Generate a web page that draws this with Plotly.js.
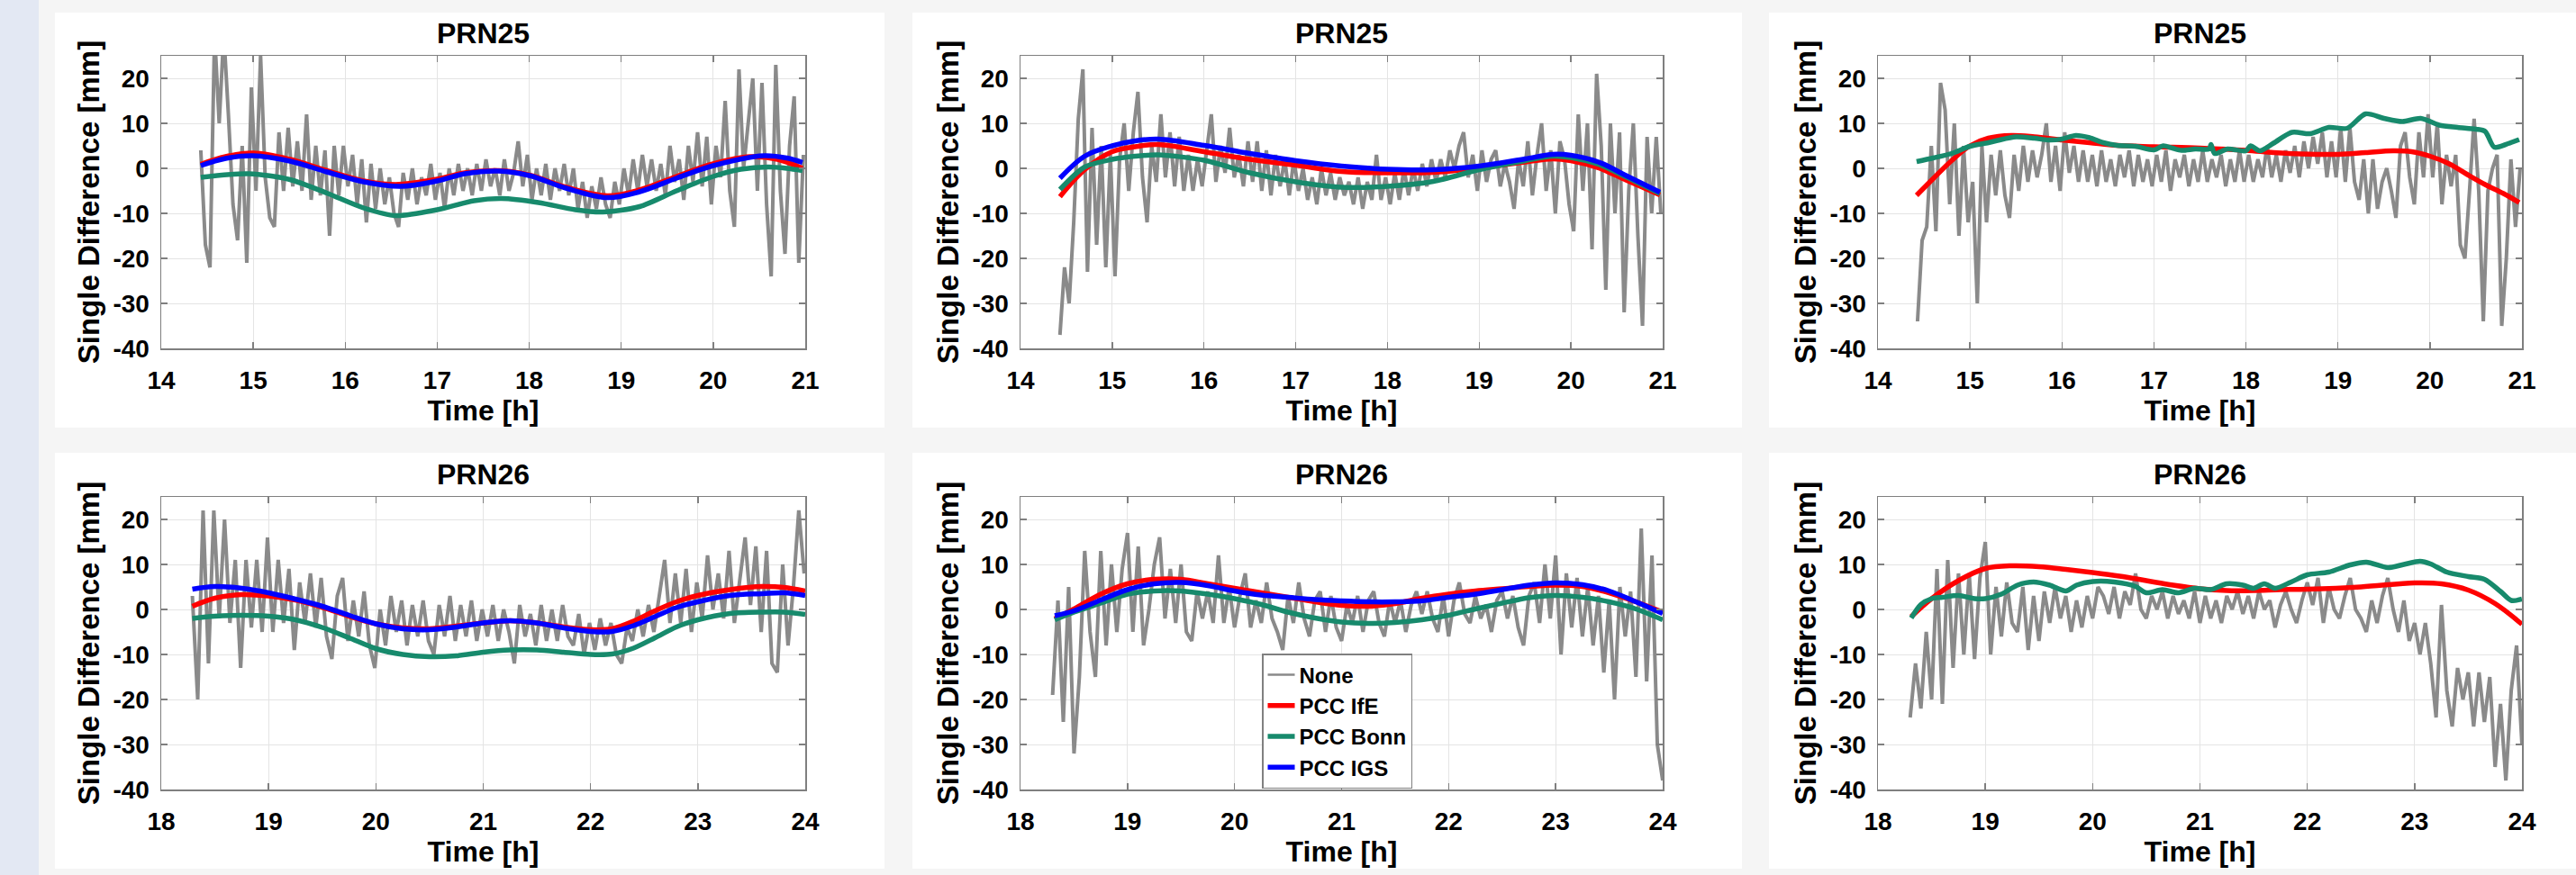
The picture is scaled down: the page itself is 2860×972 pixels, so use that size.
<!DOCTYPE html>
<html>
<head>
<meta charset="utf-8">
<script src="https://cdn.plot.ly/plotly-3.0.1.min.js"></script>
<style>
html,body{margin:0;padding:0;background:#f5f5f5;overflow:hidden;}
#chart{width:2860px;height:972px;}
</style>
</head>
<body>
<div id="chart"></div>
<script>
// ---------------- DATA ----------------
const seriesNames = ["None", "PCC IfE", "PCC Bonn", "PCC IGS"];
const panelTitles = ["PRN25", "PRN25", "PRN25", "PRN26", "PRN26", "PRN26"];
const yTickVals = [-40, -30, -20, -10, 0, 10, 20];
const yTickText = ["-40", "-30", "-20", "-10", "0", "10", "20"];
const xTickValsTop = [14, 15, 16, 17, 18, 19, 20, 21];
const xTickValsBottom = [18, 19, 20, 21, 22, 23, 24];
const sampleStep = 0.05; // sampling step of the raw ("None") series, hours

// Panel 1 (top-left)
const p1_none_t0 = 14.43;
const p1_none = [4,-17,-22,30,10,30,12,-8,-16,5,
  -21,18,-5,25,-2,-11,-13,8,-5,9,
  -4,6,-5,12,-7,5,-6,4,-15,5,
  -6,5,-4,3,-8,2,-12,1,-9,0,
  -8,-2,-10,-13,-1,-7,0,-8,-2,-6,
  1,-7,-1,-9,0,-6,1,-5,0,-6,
  1,-5,2,-4,0,-6,2,-5,-1,6,
  -4,3,-7,0,-6,1,-7,0,-5,1,
  -6,0,-9,-3,-11,-4,-9,-2,-8,-11,
  -3,-8,0,-6,2,-5,3,-4,2,-5,
  1,-6,5,-3,2,-7,5,-3,8,-4,
  7,-8,5,-2,15,-5,-13,22,0,10,
  20,-5,19,-8,-24,23,-5,-19,5,16,
  -21,3];
const p1_ife_t = [14.43,14.7,15.0,15.4,15.8,16.2,16.55,17.0,17.3,17.67,18.0,18.4,18.85,19.2,19.6,20.0,20.4,20.7,20.97];
const p1_ife   = [0.9,2.6,3.4,2.0,-0.5,-2.8,-3.6,-2.4,-1.0,-0.5,-1.5,-4.2,-6.1,-4.8,-1.8,1.0,2.6,2.0,0.0];
const p1_bonn_t = [14.43,14.95,15.4,15.8,16.2,16.55,17.0,17.4,17.7,18.1,18.5,18.8,19.2,19.6,20.0,20.3,20.6,20.8,20.97];
const p1_bonn   = [-2.0,-1.2,-2.5,-5.5,-8.8,-10.5,-9.2,-7.2,-6.7,-7.6,-9.2,-9.7,-8.5,-5.0,-1.8,-0.2,0.3,0.0,-0.5];
const p1_igs_t = [14.43,14.7,15.0,15.4,15.8,16.2,16.6,17.0,17.3,17.67,18.0,18.4,18.85,19.2,19.6,20.0,20.55,20.8,20.97];
const p1_igs   = [0.6,2.2,2.8,1.6,-0.8,-3.0,-4.0,-2.8,-1.2,-0.6,-1.6,-4.4,-6.5,-5.2,-2.2,0.6,2.8,2.3,1.3];

// Panel 2 (top-middle)
const p2_none_t0 = 14.43;
const p2_none = [-37,-22,-30,-12,11,22,-23,9,-17,5,
  -22,3,-24,2,10,-5,8,17,-2,-12,
  5,-3,12,-2,8,-4,7,-5,3,-5,
  2,-4,4,12,-3,5,-1,9,-2,3,
  -4,6,-3,6,-5,4,-6,3,-4,2,
  -6,2,-5,0,-7,-2,-8,0,-6,-1,
  -7,-2,-6,-3,-8,-2,-9,-3,-7,3,
  -7,-2,-8,-1,-7,0,-6,0,-5,1,
  -4,2,-3,2,-2,4,0,5,8,-2,
  3,-5,4,-3,2,4,-4,1,-3,-9,
  2,-4,6,-6,3,10,-5,4,-10,6,
  2,-8,-14,12,-5,10,-18,21,5,-27,
  10,-10,8,-32,-5,10,-15,-35,7,-10,
  7,-10];
const p2_fit_t = [14.43,14.7,15.0,15.25,15.5,16.0,16.5,17.0,17.5,18.0,18.5,19.0,19.5,19.8,20.0,20.3,20.6,20.97];
const p2_ife  = [-6.3,-0.3,3.7,4.8,5.3,3.7,2.0,0.7,-0.7,-1.0,-0.9,0.1,1.4,2.1,1.7,0.1,-2.6,-5.9];
const p2_bonn = [-4.7,0.3,2.0,2.7,3.0,1.8,-1.0,-3.0,-4.2,-4.0,-2.9,-0.3,1.7,2.7,2.4,0.9,-1.9,-5.6];
const p2_igs  = [-2.2,2.7,5.0,6.1,6.5,5.1,3.3,1.7,0.5,-0.2,-0.3,0.5,2.1,3.1,2.9,1.4,-1.6,-5.3];

// Panel 3 (top-right)
const p3_none_t0 = 14.43;
const p3_none = [-34,-16,-13,5,-14,19,13,-8,10,-15,
  5,-12,-3,-30,5,-12,3,-6,4,-6,
  -11,3,-5,5,-3,4,-2,3,10,-3,
  5,-5,8,-1,5,-3,4,-3,3,-4,
  4,-3,2,-4,3,-2,4,-4,3,-3,
  2,-4,3,-3,4,-5,2,-2,3,-4,
  2,-3,4,-3,2,-2,3,-4,2,-3,
  4,-3,3,-3,2,-2,5,-2,3,-3,
  4,-1,5,-2,6,0,7,1,8,-2,
  6,-2,9,-3,9,-3,-7,2,-10,2,
  -9,-3,0,-5,-11,5,8,-2,-8,8,
  -2,12,-2,10,-8,3,-4,3,-17,-20,
  -5,11,-5,-34,-5,0,3,-35,-20,2,
  -13,0];
const p3_ife_t = [14.42,14.6,14.8,15.0,15.2,15.45,15.7,16.0,16.3,16.6,17.0,17.5,18.0,18.3,18.6,19.0,19.3,19.6,19.8,20.0,20.2,20.4,20.6,20.8,20.97];
const p3_ife   = [-6.0,-2.3,1.7,5.0,6.7,7.3,7.0,6.3,5.7,5.1,4.8,4.5,4.0,3.5,3.2,3.1,3.5,3.9,3.7,2.7,1.1,-1.3,-3.6,-5.6,-7.6];
const p3_bonn_t = [14.42,14.6,14.8,15.0,15.2,15.3,15.5,15.7,15.85,16.0,16.15,16.3,16.45,16.6,16.8,17.0,17.1,17.2,17.3,17.45,17.6,17.62,17.66,17.8,18.0,18.05,18.15,18.3,18.5,18.7,18.9,19.1,19.3,19.5,19.7,19.9,20.1,20.3,20.5,20.6,20.7,20.85,20.97];
const p3_bonn   = [1.5,2.3,3.3,4.9,5.7,6.2,7.0,6.7,6.3,6.5,7.3,6.8,5.7,5.1,4.9,4.1,5.0,4.5,4.0,4.3,4.3,5.3,3.3,4.3,3.9,5.0,3.9,5.6,8.0,7.7,9.1,8.9,12.1,11.1,10.4,11.1,9.6,9.1,8.7,8.2,4.7,5.5,6.4];

// Panel 4 (bottom-left)
const p4_none_t0 = 18.29;
const p4_none = [3,-20,22,-12,22,-2,20,-3,11,-13,
  11,-4,11,-5,16,-5,11,-3,9,-9,
  6,-3,8,-4,7,-6,-11,3,7,-7,
  2,-6,4,-8,-13,0,-8,3,-5,2,
  -8,1,-6,2,-7,-10,1,-6,3,-7,
  1,-6,2,-7,0,-6,1,-7,0,-5,
  -12,1,-6,-1,-8,1,-7,0,-7,1,
  -6,-8,-1,-10,-3,-9,-2,-8,-3,-10,
  -12,-4,-7,0,-6,1,-5,3,11,-3,
  8,-3,9,-5,6,-2,12,0,8,-2,
  13,-3,6,16,1,14,-5,13,-12,-14,
  10,-8,5,22,8];
const p4_fit_t = [18.29,18.5,18.75,19.0,19.25,19.5,19.75,20.0,20.25,20.5,20.75,21.0,21.25,21.5,21.75,22.0,22.2,22.4,22.6,22.8,23.0,23.3,23.6,23.8,24.0];
const p4_ife  = [0.7,2.5,3.3,3.0,2.1,0.5,-1.5,-3.2,-4.1,-4.3,-3.7,-3.0,-2.5,-3.0,-3.9,-4.5,-4.3,-2.6,-0.3,1.7,3.1,4.4,5.1,4.9,4.1];
const p4_bonn = [-2.0,-1.5,-1.3,-1.5,-2.3,-4.0,-6.3,-8.7,-10.0,-10.5,-10.3,-9.5,-9.0,-9.0,-9.5,-10.0,-9.9,-8.6,-6.3,-3.9,-2.3,-0.9,-0.6,-0.6,-1.1];
const p4_igs  = [4.5,5.1,4.7,3.7,2.3,0.7,-1.3,-3.2,-4.3,-4.5,-3.9,-3.0,-2.5,-3.0,-4.1,-4.9,-4.9,-3.6,-1.6,0.4,1.7,3.1,3.5,3.7,3.1];

// Panel 5 (bottom-middle)
const p5_none_t0 = 18.30;
const p5_none = [-19,2,-25,5,-32,-15,13,-5,-15,13,
  -8,10,-5,9,17,-5,14,-8,0,10,
  16,-2,9,-3,10,-5,-7,4,-2,4,
  -3,12,-3,5,-4,3,8,-4,2,-3,
  6,-2,-5,-9,3,-3,6,-2,-6,2,
  4,-5,3,-4,-7,1,-3,3,-5,2,
  4,-3,-6,2,-3,2,-5,1,4,-1,
  4,-2,-5,3,-6,2,6,-1,-3,3,
  -2,1,-5,2,4,-2,3,-4,-8,3,
  6,-3,10,-2,12,-10,8,-4,7,-6,
  5,-8,3,-14,2,-20,5,-6,4,-15,
  18,-16,12,-30,-38];
const p5_fit_t = [18.32,18.5,18.75,19.0,19.25,19.5,19.75,20.0,20.25,20.5,20.75,21.0,21.25,21.5,21.75,22.0,22.25,22.5,22.75,23.0,23.25,23.5,23.75,24.0];
const p5_ife  = [-2.1,0.1,3.4,5.7,6.7,6.7,5.7,4.7,3.7,2.7,1.7,0.9,0.7,1.3,2.5,3.4,4.1,4.6,5.1,5.4,5.1,3.7,1.7,-0.6];
const p5_bonn = [-2.3,-0.6,1.4,3.4,4.1,4.1,3.4,2.4,1.1,-0.6,-1.9,-2.8,-3.1,-2.9,-2.3,-1.3,0.1,1.4,2.6,3.1,2.7,1.7,0.1,-2.3];
const p5_igs  = [-1.4,-0.3,2.1,4.4,5.7,6.0,5.3,4.1,3.2,2.7,2.2,1.9,1.7,1.7,1.9,2.7,3.4,4.4,5.4,5.9,5.5,4.1,1.7,-0.9];

// Panel 6 (bottom-right)
const p6_none_t0 = 18.30;
const p6_none = [-24,-12,-22,-5,-20,9,-21,11,-13,8,
  -10,8,-11,7,15,-10,5,-6,6,-3,
  -5,5,-9,3,-7,4,-3,5,-2,3,
  -5,2,-4,3,-2,5,3,-1,5,-2,
  4,1,8,0,-2,3,0,4,-2,3,
  -1,2,-2,4,-3,3,-2,2,-3,3,
  0,4,-1,3,-2,4,0,2,-4,1,
  4,0,-3,2,6,1,7,-3,5,0,
  -2,3,7,0,-2,-5,2,-3,3,7,
  0,-5,2,-7,-3,-10,-3,-12,-24,1,
  -18,-26,-13,-20,-14,-26,-14,-25,-15,-35,
  -21,-38,-18,-8,-30];
const p6_ife_t = [18.31,18.5,18.75,19.0,19.25,19.5,19.75,20.0,20.25,20.5,20.75,21.0,21.25,21.5,21.75,22.0,22.5,23.0,23.25,23.5,23.75,24.0];
const p6_ife   = [-1.6,2.4,6.4,9.1,9.7,9.5,8.9,8.2,7.4,6.4,5.4,4.6,4.2,4.2,4.4,4.5,5.0,5.9,5.7,4.3,1.3,-3.3];
const p6_bonn_t = [18.31,18.4,18.5,18.6,18.75,18.9,19.0,19.15,19.3,19.45,19.6,19.75,19.85,20.0,20.2,20.4,20.5,20.65,20.8,20.95,21.1,21.25,21.4,21.5,21.6,21.7,21.85,22.0,22.2,22.4,22.55,22.75,22.9,23.05,23.15,23.3,23.5,23.65,23.8,23.9,24.0];
const p6_bonn   = [-1.9,1.1,2.4,2.7,3.1,2.4,2.4,3.4,5.4,6.1,5.4,4.1,5.4,6.2,6.1,5.1,3.7,4.4,3.7,4.7,4.4,5.7,5.4,4.7,5.7,4.7,6.1,7.7,8.3,9.9,10.5,9.3,10.0,10.7,10.1,8.3,7.3,6.7,4.0,2.0,2.3];

// ---------------- STYLE ----------------
const W = 2860, H = 972;
const FONT = "Liberation Sans, Arial, Helvetica, sans-serif";
const C_NONE = "#8a8a8a", C_IFE = "#ff0000", C_BONN = "#178a6c", C_IGS = "#0000ff";
const AX_COL = "#7f7f7f";
const GRID_COL = "#e4e4e4";

function px(x){ return x / W; }
function py(y){ return 1 - y / H; }
function grid(t0, vals){ return vals.map((_, i) => +(t0 + i * sampleStep).toFixed(3)); }

// plot-area pixel boxes [left, right, top, bottom]
const boxes = [
  [179, 894, 62, 387], [1133, 1846, 62, 387], [2085, 2800, 62, 387],
  [179, 894, 552, 877], [1133, 1846, 552, 877], [2085, 2800, 552, 877]
];

const panels = [
  {none: [p1_none_t0, p1_none], ife: [p1_ife_t, p1_ife], bonn: [p1_bonn_t, p1_bonn], igs: [p1_igs_t, p1_igs]},
  {none: [p2_none_t0, p2_none], ife: [p2_fit_t, p2_ife], bonn: [p2_fit_t, p2_bonn], igs: [p2_fit_t, p2_igs]},
  {none: [p3_none_t0, p3_none], ife: [p3_ife_t, p3_ife], bonn: [p3_bonn_t, p3_bonn]},
  {none: [p4_none_t0, p4_none], ife: [p4_fit_t, p4_ife], bonn: [p4_fit_t, p4_bonn], igs: [p4_fit_t, p4_igs]},
  {none: [p5_none_t0, p5_none], ife: [p5_fit_t, p5_ife], bonn: [p5_fit_t, p5_bonn], igs: [p5_fit_t, p5_igs]},
  {none: [p6_none_t0, p6_none], ife: [p6_ife_t, p6_ife], bonn: [p6_bonn_t, p6_bonn]}
];

const LEGEND_PANEL = 4;
const traces = [];
const layout = {
  width: W, height: H,
  margin: {l: 0, r: 0, t: 0, b: 0, pad: 0},
  paper_bgcolor: "#f5f5f5",
  plot_bgcolor: "#ffffff",
  font: {family: FONT, size: 28, color: "#000000", weight: "bold"},
  showlegend: true,
  legend: {
    x: px(1401), y: py(726), xanchor: "left", yanchor: "top",
    bgcolor: "#ffffff", bordercolor: "#808080", borderwidth: 1.5,
    font: {family: FONT, size: 24, color: "#000000", weight: "bold"},
    tracegroupgap: 0, itemwidth: 30
  },
  annotations: [],
  shapes: []
};

// background: left strip and white panel cards
layout.shapes.push({type: "rect", xref: "paper", yref: "paper", x0: 0, x1: px(43), y0: 0, y1: 1,
  fillcolor: "#e3e8f3", line: {width: 0}, layer: "below"});
const cardsX = [[61, 982], [1013, 1934], [1964, 2860]];
const cardsY = [[14, 475], [503, 965]];
cardsY.forEach(cy => cardsX.forEach(cx => {
  layout.shapes.push({type: "rect", xref: "paper", yref: "paper",
    x0: px(cx[0]), x1: px(cx[1]), y0: py(cy[1]), y1: py(cy[0]),
    fillcolor: "#ffffff", line: {width: 0}, layer: "below"});
}));

panels.forEach((p, i) => {
  const n = i + 1;
  const xa = "x" + (n === 1 ? "" : n), ya = "y" + (n === 1 ? "" : n);
  const xk = "xaxis" + (n === 1 ? "" : n), yk = "yaxis" + (n === 1 ? "" : n);
  const b = boxes[i];
  const top = i < 3;
  const legend = (i === LEGEND_PANEL);

  traces.push({type: "scatter", mode: "lines", name: seriesNames[0], xaxis: xa, yaxis: ya,
    x: grid(p.none[0], p.none[1]), y: p.none[1],
    line: {color: C_NONE, width: 4, shape: "linear"}, showlegend: false, hoverinfo: "skip"});
  if (legend) {
    // legend entry for the raw series drawn with the thin line style of the reference legend
    traces.push({type: "scatter", mode: "lines", name: seriesNames[0], xaxis: xa, yaxis: ya,
      x: [null], y: [null], line: {color: C_NONE, width: 2.5}, showlegend: true, legendrank: 1});
  }
  traces.push({type: "scatter", mode: "lines", name: seriesNames[1], xaxis: xa, yaxis: ya,
    x: p.ife[0], y: p.ife[1],
    line: {color: C_IFE, width: 5.5, shape: "spline", smoothing: 1}, showlegend: legend, legendrank: 2});
  traces.push({type: "scatter", mode: "lines", name: seriesNames[2], xaxis: xa, yaxis: ya,
    x: p.bonn[0], y: p.bonn[1],
    line: {color: C_BONN, width: 5.5, shape: "spline", smoothing: 0.8}, showlegend: legend, legendrank: 3});
  if (p.igs) {
    traces.push({type: "scatter", mode: "lines", name: seriesNames[3], xaxis: xa, yaxis: ya,
      x: p.igs[0], y: p.igs[1],
      line: {color: C_IGS, width: 5.5, shape: "spline", smoothing: 1}, showlegend: legend, legendrank: 4});
  }

  layout[xk] = {
    domain: [px(b[0]), px(b[1])], anchor: ya,
    range: top ? [14, 21] : [18, 24],
    tickvals: top ? xTickValsTop : xTickValsBottom,
    ticks: "inside", ticklen: 7, tickwidth: 1.5, tickcolor: AX_COL,
    showline: true, linecolor: AX_COL, linewidth: 1.5, mirror: "ticks",
    showgrid: true, gridcolor: GRID_COL, gridwidth: 1, zeroline: false,
    tickfont: {family: FONT, size: 28, color: "#000", weight: "bold"},
    ticklabelstandoff: 10,
    title: {text: "Time [h]", font: {family: FONT, size: 32, color: "#000", weight: "bold"}, standoff: 6},
    automargin: false, fixedrange: true
  };
  layout[yk] = {
    domain: [py(b[3]), py(b[2])], anchor: xa,
    range: [-40, 25],
    tickvals: yTickVals, ticktext: yTickText,
    ticks: "inside", ticklen: 7, tickwidth: 1.5, tickcolor: AX_COL,
    showline: true, linecolor: AX_COL, linewidth: 1.5, mirror: "ticks",
    showgrid: true, gridcolor: GRID_COL, gridwidth: 1, zeroline: false,
    tickfont: {family: FONT, size: 28, color: "#000", weight: "bold"},
    ticklabelstandoff: 6,
    title: {text: "Single Difference [mm]", font: {family: FONT, size: 33, color: "#000", weight: "bold"}, standoff: 5},
    automargin: false, fixedrange: true
  };

  layout.annotations.push({
    text: panelTitles[i], xref: "paper", yref: "paper",
    x: px((b[0] + b[1]) / 2), y: py(top ? 37 : 527),
    xanchor: "center", yanchor: "middle", showarrow: false,
    font: {family: FONT, size: 32, color: "#000", weight: "bold"}
  });
});

Plotly.newPlot("chart", traces, layout, {staticPlot: true, displayModeBar: false});
</script>
</body>
</html>
